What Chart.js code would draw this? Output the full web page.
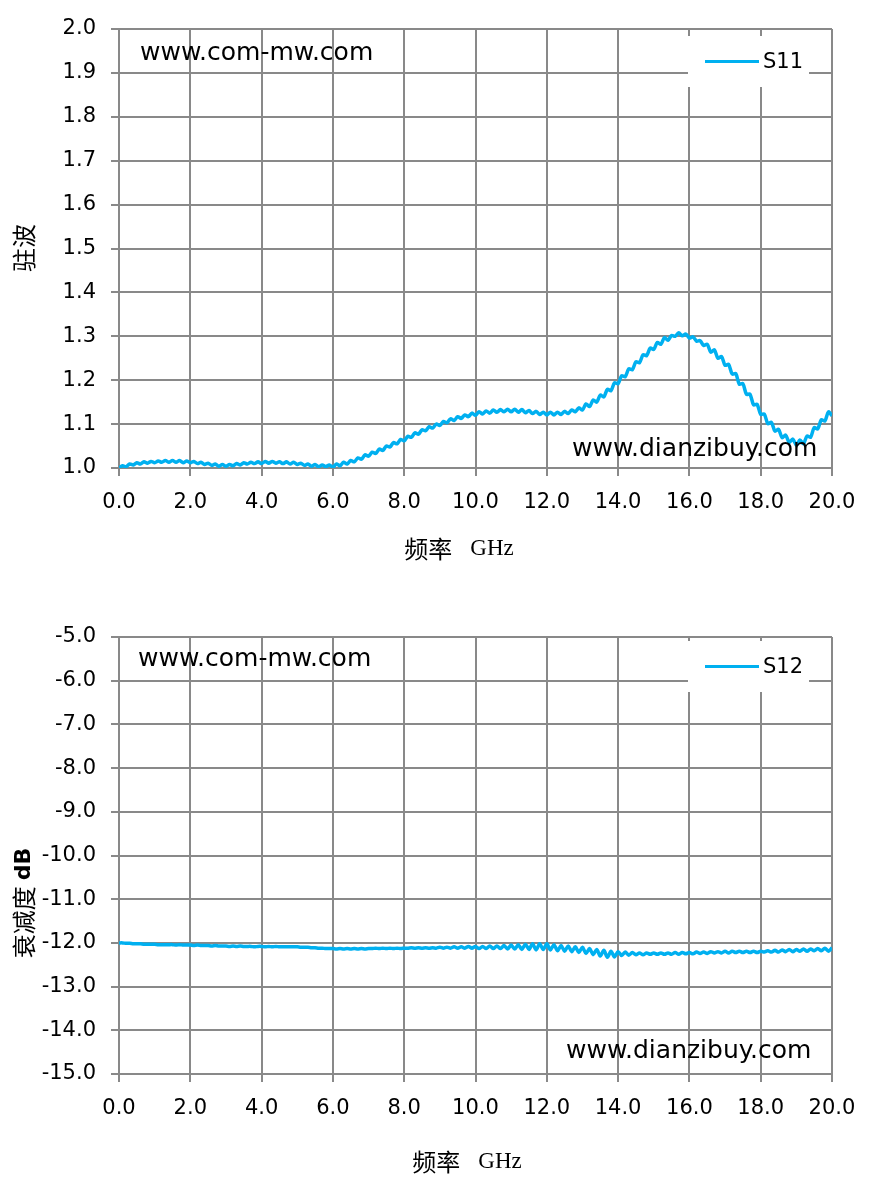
<!DOCTYPE html>
<html>
<head>
<meta charset="utf-8">
<script src="https://cdn.jsdelivr.net/npm/chart.js@4/dist/chart.umd.min.js"></script>
<style>
  html, body { margin: 0; padding: 0; background: #fff; overflow: hidden; }
  .box { position: absolute; left: 0; width: 871px; height: 597px; }
  #top { top: 0; }
  #bottom { top: 597px; }
</style>
</head>
<body>
<div class="box" id="top"><canvas id="chart1" width="871" height="597"></canvas></div>
<div class="box" id="bottom"><canvas id="chart2" width="871" height="597"></canvas></div>
<script>
// tick labels
const xTicks = [0, 2, 4, 6, 8, 10, 12, 14, 16, 18, 20];
const vswrTicks = [1.0, 1.1, 1.2, 1.3, 1.4, 1.5, 1.6, 1.7, 1.8, 1.9, 2.0];
const dbTicks = [-15, -14, -13, -12, -11, -10, -9, -8, -7, -6, -5];

// sweep points, 0.0 .. 20.0 GHz every 0.1 GHz
const freqGHz = Array.from({ length: 201 }, (_, i) => i / 10);

// S11 VSWR, one row per GHz
const s11Vswr = [
  1.000, 1.005, 1.003, 1.009, 1.007, 1.012, 1.009, 1.014, 1.011, 1.015,
  1.012, 1.016, 1.013, 1.017, 1.013, 1.017, 1.013, 1.017, 1.012, 1.016,
  1.012, 1.015, 1.010, 1.013, 1.008, 1.011, 1.006, 1.009, 1.004, 1.008,
  1.004, 1.008, 1.005, 1.010, 1.007, 1.012, 1.009, 1.013, 1.010, 1.014,
  1.010, 1.015, 1.011, 1.015, 1.011, 1.014, 1.010, 1.014, 1.009, 1.013,
  1.008, 1.011, 1.006, 1.009, 1.004, 1.008, 1.003, 1.007, 1.003, 1.007,
  1.002, 1.009, 1.005, 1.013, 1.009, 1.017, 1.014, 1.023, 1.020, 1.030,
  1.027, 1.036, 1.033, 1.043, 1.040, 1.050, 1.048, 1.058, 1.055, 1.065,
  1.062, 1.072, 1.070, 1.080, 1.077, 1.087, 1.085, 1.094, 1.091, 1.100,
  1.097, 1.106, 1.103, 1.112, 1.108, 1.117, 1.113, 1.121, 1.117, 1.125,
  1.120, 1.128, 1.123, 1.130, 1.125, 1.132, 1.127, 1.133, 1.128, 1.134,
  1.128, 1.134, 1.127, 1.133, 1.126, 1.131, 1.124, 1.129, 1.122, 1.127,
  1.121, 1.127, 1.121, 1.127, 1.122, 1.129, 1.124, 1.132, 1.128, 1.137,
  1.132, 1.146, 1.140, 1.155, 1.150, 1.166, 1.162, 1.179, 1.176, 1.194,
  1.192, 1.210, 1.208, 1.226, 1.224, 1.242, 1.240, 1.258, 1.256, 1.273,
  1.270, 1.286, 1.282, 1.297, 1.291, 1.302, 1.300, 1.308, 1.301, 1.305,
  1.296, 1.299, 1.289, 1.290, 1.279, 1.282, 1.264, 1.269, 1.250, 1.254,
  1.234, 1.236, 1.214, 1.215, 1.191, 1.192, 1.168, 1.168, 1.144, 1.145,
  1.122, 1.123, 1.101, 1.104, 1.084, 1.088, 1.069, 1.075, 1.058, 1.066,
  1.052, 1.064, 1.055, 1.073, 1.070, 1.092, 1.089, 1.110, 1.107, 1.128,
  1.119
];

// S12 attenuation in dB, one row per GHz
const s12Db = [
  -12.00, -12.00, -12.01, -12.01, -12.02, -12.02, -12.02, -12.03, -12.03, -12.03,
  -12.03, -12.04, -12.04, -12.04, -12.04, -12.04, -12.05, -12.04, -12.05, -12.05,
  -12.05, -12.06, -12.05, -12.06, -12.06, -12.06, -12.07, -12.06, -12.07, -12.07,
  -12.07, -12.08, -12.07, -12.08, -12.07, -12.08, -12.08, -12.08, -12.09, -12.08,
  -12.08, -12.09, -12.08, -12.09, -12.08, -12.09, -12.09, -12.09, -12.09, -12.09,
  -12.09, -12.10, -12.10, -12.10, -12.11, -12.11, -12.12, -12.12, -12.13, -12.13,
  -12.13, -12.14, -12.13, -12.14, -12.13, -12.14, -12.13, -12.14, -12.13, -12.14,
  -12.13, -12.13, -12.12, -12.13, -12.12, -12.13, -12.12, -12.13, -12.12, -12.13,
  -12.12, -12.12, -12.11, -12.12, -12.11, -12.12, -12.11, -12.12, -12.11, -12.12,
  -12.10, -12.12, -12.10, -12.12, -12.09, -12.12, -12.09, -12.12, -12.08, -12.12,
  -12.08, -12.13, -12.08, -12.13, -12.07, -12.13, -12.07, -12.13, -12.06, -12.14,
  -12.05, -12.14, -12.04, -12.15, -12.03, -12.15, -12.02, -12.16, -12.02, -12.15,
  -12.02, -12.16, -12.04, -12.18, -12.06, -12.19, -12.07, -12.20, -12.09, -12.22,
  -12.10, -12.24, -12.13, -12.27, -12.15, -12.30, -12.17, -12.33, -12.19, -12.32,
  -12.20, -12.29, -12.21, -12.28, -12.22, -12.27, -12.23, -12.27, -12.23, -12.26,
  -12.23, -12.26, -12.23, -12.26, -12.23, -12.26, -12.22, -12.26, -12.22, -12.25,
  -12.22, -12.25, -12.21, -12.24, -12.21, -12.24, -12.20, -12.23, -12.20, -12.23,
  -12.19, -12.23, -12.19, -12.22, -12.19, -12.22, -12.19, -12.22, -12.19, -12.22,
  -12.19, -12.21, -12.18, -12.21, -12.17, -12.21, -12.16, -12.20, -12.15, -12.20,
  -12.15, -12.19, -12.14, -12.19, -12.14, -12.18, -12.13, -12.18, -12.12, -12.19,
  -12.11
];

const LINE = '#00b0f0';
const GRID = '#898989';
const TICK_FONT = { family: '"DejaVu Sans"', size: 21 };
const CJK = '24px "Noto Sans CJK SC"';

// white legend box drawn inside the plot, over the grid
const boxLegend = {
  id: 'boxLegend',
  afterDatasetsDraw(chart, args, o) {
    const ctx = chart.ctx;
    const ds = chart.data.datasets[0];
    const cy = o.y + o.h / 2;
    ctx.save();
    ctx.fillStyle = '#fff';
    ctx.fillRect(o.x, o.y, o.w, o.h);
    ctx.strokeStyle = ds.borderColor;
    ctx.lineWidth = 3;
    ctx.beginPath();
    ctx.moveTo(o.x + 17, cy);
    ctx.lineTo(o.x + 71, cy);
    ctx.stroke();
    ctx.fillStyle = '#000';
    ctx.font = '21px "DejaVu Sans"';
    ctx.textBaseline = 'middle';
    ctx.fillText(ds.label, o.x + 75, cy + 1);
    ctx.restore();
  }
};

// site names printed on the plot
const watermarks = {
  id: 'watermarks',
  afterDatasetsDraw(chart, args, o) {
    const ctx = chart.ctx;
    ctx.save();
    ctx.fillStyle = '#000';
    ctx.font = '25px "DejaVu Sans"';
    ctx.textBaseline = 'alphabetic';
    o.items.forEach(t => ctx.fillText(t.text, t.x, t.y));
    ctx.restore();
  }
};

// axis titles, built from runs of text in different fonts
const axisCaptions = {
  id: 'axisCaptions',
  afterDraw(chart, args, o) {
    const ctx = chart.ctx;
    o.items.forEach(c => {
      ctx.save();
      ctx.translate(c.x, c.y);
      if (c.vertical) ctx.rotate(-Math.PI / 2);
      ctx.fillStyle = '#000';
      ctx.textBaseline = 'middle';
      let total = 0;
      c.parts.forEach(p => { ctx.font = p.font; total += (p.gap || 0) + ctx.measureText(p.text).width; });
      let x = -total / 2;
      c.parts.forEach(p => {
        ctx.font = p.font;
        x += p.gap || 0;
        ctx.fillText(p.text, x, 0);
        x += ctx.measureText(p.text).width;
      });
      ctx.restore();
    });
  }
};

const freqTitle = [
  { text: '频率', font: CJK },
  { text: 'GHz', font: '23px "Liberation Serif"', gap: 18 }
];

function makeChart(id, cfg) {
  const yTicks = cfg.yTicks;
  return new Chart(document.getElementById(id), {
    type: 'line',
    data: {
      datasets: [{
        label: cfg.label,
        data: freqGHz.map((f, i) => ({ x: f, y: cfg.values[i] })),
        borderColor: LINE,
        borderWidth: 3.5,
        pointRadius: 0,
        tension: 0.3,
        fill: false
      }]
    },
    options: {
      responsive: false,
      animation: false,
      devicePixelRatio: 1,
      layout: { padding: { top: cfg.top, right: 39, left: 0, bottom: 0 } },
      scales: {
        x: {
          type: 'linear',
          min: 0,
          max: 20,
          afterBuildTicks: s => { s.ticks = xTicks.map(v => ({ value: v })); },
          afterFit: s => { s.height = 597 - cfg.bottom; },
          ticks: {
            font: TICK_FONT,
            color: '#000',
            padding: 14,
            maxRotation: 0,
            autoSkip: false,
            callback: v => v.toFixed(1)
          },
          grid: { color: GRID, lineWidth: 2, tickLength: 8, tickColor: GRID },
          border: { color: GRID, width: 2 }
        },
        y: {
          type: 'linear',
          min: yTicks[0],
          max: yTicks[yTicks.length - 1],
          afterBuildTicks: s => { s.ticks = yTicks.map(v => ({ value: v })); },
          afterFit: s => { s.width = 119; },
          ticks: {
            font: TICK_FONT,
            color: '#000',
            padding: 15,
            autoSkip: false,
            callback: v => v.toFixed(1)
          },
          grid: { color: GRID, lineWidth: 2, tickLength: 8, tickColor: GRID },
          border: { color: GRID, width: 2 }
        }
      },
      plugins: {
        legend: { display: false },
        tooltip: { enabled: false },
        boxLegend: cfg.legendBox,
        watermarks: { items: cfg.marks },
        axisCaptions: { items: cfg.captions }
      }
    },
    plugins: [boxLegend, watermarks, axisCaptions]
  });
}

makeChart('chart1', {
  label: 'S11',
  values: s11Vswr,
  yTicks: vswrTicks,
  top: 29,
  bottom: 468,
  legendBox: { x: 688, y: 36, w: 121, h: 51 },
  marks: [
    { text: 'www.com-mw.com', x: 140, y: 60 },
    { text: 'www.dianzibuy.com', x: 572, y: 456 }
  ],
  captions: [
    { parts: freqTitle, x: 459, y: 549 },
    { parts: [{ text: '驻波', font: CJK }], x: 24, y: 248, vertical: true }
  ]
});

makeChart('chart2', {
  label: 'S12',
  values: s12Db,
  yTicks: dbTicks,
  top: 40,
  bottom: 477,
  legendBox: { x: 688, y: 44, w: 121, h: 51 },
  marks: [
    { text: 'www.com-mw.com', x: 138, y: 69 },
    { text: 'www.dianzibuy.com', x: 566, y: 461 }
  ],
  captions: [
    { parts: freqTitle, x: 467, y: 565 },
    {
      parts: [
        { text: '衰减度', font: CJK },
        { text: 'dB', font: 'bold 22px "DejaVu Sans"', gap: 6 }
      ],
      x: 24, y: 306, vertical: true
    }
  ]
});
</script>
</body>
</html>
